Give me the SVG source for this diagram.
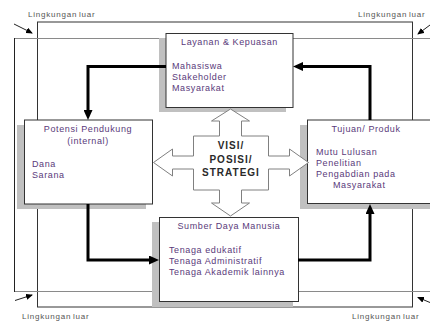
<svg xmlns="http://www.w3.org/2000/svg" width="430" height="322" viewBox="0 0 430 322">
<style>
.env{font-family:"Liberation Sans",Arial,sans-serif;font-size:8px;fill:#555;letter-spacing:0.8px;word-spacing:-1.5px}
.t{font-family:"Liberation Sans",Arial,sans-serif;font-size:9px;fill:#5a3a7a;letter-spacing:0.6px}
.c{text-anchor:middle}
.shadow{fill:#c0c0c0;stroke:none}
.box{fill:#fff;stroke:#333;stroke-width:1}
.conn{fill:none;stroke:#000;stroke-width:3;stroke-linejoin:miter}
.thin{fill:none;stroke:#222;stroke-width:1}
.star{fill:#fff;stroke:#808080;stroke-width:1}
.vt{font-family:"Liberation Sans",Arial,sans-serif;font-size:10px;font-weight:bold;fill:#2a2a2a;letter-spacing:1px;text-anchor:middle}
</style>
<defs>
<marker id="ah" markerUnits="userSpaceOnUse" markerWidth="10" markerHeight="9" refX="2" refY="4.5" orient="auto">
<path d="M0,0 L10,4.5 L0,9 z" fill="#000"/>
</marker>
<marker id="sa" markerUnits="userSpaceOnUse" markerWidth="7" markerHeight="6" refX="6" refY="3" orient="auto">
<path d="M0,0 L7,3 L0,6 z" fill="#000"/>
</marker>
</defs>
<rect width="430" height="322" fill="#fff"/>
<g id="frames">
<rect x="37.5" y="22" width="375" height="285" fill="none" stroke="#333"/>
<path d="M14,38.5 H432 M14,291.5 H432" stroke="#8a8a8a" fill="none"/>
<path d="M14.5,38 V292" stroke="#222" fill="none"/>
</g>
<g id="layanan">
<rect class="shadow" x="159" y="38" width="127" height="74"/>
<rect class="box" x="166" y="33.5" width="127" height="74"/>
<text class="t c" x="229.5" y="45">Layanan &amp; Kepuasan</text>
<text class="t" x="172" y="69">Mahasiswa</text>
<text class="t" x="172" y="80">Stakeholder</text>
<text class="t" x="172" y="91">Masyarakat</text>
</g>
<g id="potensi">
<rect class="shadow" x="17" y="125" width="129" height="84"/>
<rect class="box" x="24.5" y="120" width="128" height="84"/>
<text class="t c" x="88" y="132">Potensi Pendukung</text>
<text class="t c" x="88" y="144">(internal)</text>
<text class="t" x="32" y="167">Dana</text>
<text class="t" x="32" y="178">Sarana</text>
</g>
<g id="tujuan">
<rect class="shadow" x="300" y="125" width="140" height="84"/>
<rect class="box" x="307.5" y="120" width="130" height="83.5"/>
<text class="t c" x="366" y="132">Tujuan/ Produk</text>
<text class="t" x="316" y="155">Mutu Lulusan</text>
<text class="t" x="316" y="166">Penelitian</text>
<text class="t" x="316" y="177">Pengabdian pada</text>
<text class="t" x="333" y="188">Masyarakat</text>
</g>
<g id="sumber">
<rect class="shadow" x="152" y="222" width="141" height="85"/>
<rect class="box" x="159.5" y="217.5" width="139" height="84"/>
<text class="t c" x="229" y="229">Sumber Daya Manusia</text>
<text class="t" x="169" y="253">Tenaga edukatif</text>
<text class="t" x="169" y="264">Tenaga Administratif</text>
<text class="t" x="169" y="275">Tenaga Akademik lainnya</text>
</g>
<g id="visi">
<path class="star" d="M230.5,109 L249.5,121 L241.5,121 L241.5,136 L268.5,136 L268.5,156 L289.5,156 L289.5,149 L308.5,162.5 L289.5,176 L289.5,169 L268.5,169 L268.5,190 L241.5,190 L241.5,203 L249.5,203 L230.5,216 L211.5,203 L219.5,203 L219.5,190 L193.5,190 L193.5,169 L172.5,169 L172.5,176 L153.5,162.5 L172.5,149 L172.5,156 L193.5,156 L193.5,136 L219.5,136 L219.5,121 L211.5,121 Z"/>
<text class="vt" x="231" y="149">VISI/</text>
<text class="vt" x="231" y="162.5">POSISI/</text>
<text class="vt" x="231" y="176">STRATEGI</text>
</g>
<g id="connectors">
<path class="conn" d="M166,66.5 H88 V112" marker-end="url(#ah)"/>
<path class="conn" d="M88,204 V260 H151" marker-end="url(#ah)"/>
<path class="conn" d="M298,260 H370 V212" marker-end="url(#ah)"/>
<path class="conn" d="M370,120 V66.5 H301" marker-end="url(#ah)"/>
<path class="thin" d="M14,24 L32,33" marker-end="url(#sa)"/>
<path class="thin" d="M430,25 L418,34" marker-end="url(#sa)"/>
<path class="thin" d="M15,300.5 L32,295" marker-end="url(#sa)"/>
<path class="thin" d="M430,302.5 L418,297.5" marker-end="url(#sa)"/>
</g>
<g id="labels">
<text class="env" x="28" y="17">Lingkungan luar</text>
<text class="env" x="358" y="17">Lingkungan luar</text>
<text class="env" x="22" y="319">Lingkungan luar</text>
<text class="env" x="352" y="319">Lingkungan luar</text>
</g>
</svg>
